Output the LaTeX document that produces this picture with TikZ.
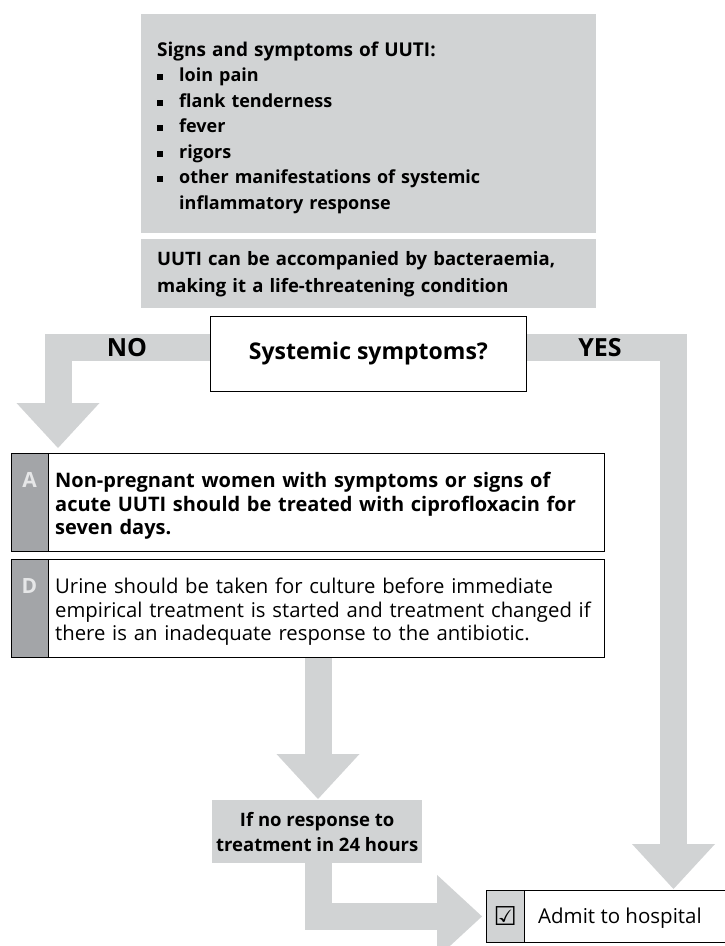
\documentclass[tikz,border=0pt]{standalone}
\usepackage{fontspec}
\setmainfont{Open Sans}
\newfontfamily\symfont{DejaVu Sans}
\usetikzlibrary{arrows.meta,backgrounds}
\definecolor{bandgray}{HTML}{D1D3D4}
\definecolor{stripgray}{HTML}{A3A5A8}
\definecolor{lettergray}{HTML}{E6E7E8}
\newcommand{\bul}{\makebox[22pt][l]{\rule[1.5pt]{6pt}{6pt}}}
\begin{document}
\begin{tikzpicture}[x=1pt,y=-1pt,
  band/.style={draw=bandgray, line width=27pt, line join=miter,
    -{Triangle[width=83pt,length=45pt,line width=0pt]}},
  graybox/.style={fill=bandgray, draw=none, inner sep=0pt, anchor=north west},
  wbox/.style={draw=black, line width=0.8pt, fill=white, inner sep=0pt, anchor=north west},
  stripbox/.style={draw=black, line width=0.8pt, fill=stripgray, inner sep=0pt, anchor=north west},
  chkbox/.style={draw=black, line width=0.8pt, fill=bandgray, inner sep=0pt, anchor=north west},
  letter/.style={anchor=base, text=lettergray, font=\fontsize{21}{24}\selectfont\bfseries},
  bodybold/.style={anchor=north west, inner sep=0pt, align=left, text width=560pt, font=\fontsize{20}{23.5}\selectfont\bfseries},
  bodyreg/.style={anchor=north west, inner sep=0pt, align=left, text width=560pt, font=\fontsize{20.3}{23.5}\selectfont},
  toptext/.style={anchor=north west, inner sep=0pt, align=left, text width=430pt, font=\fontsize{18}{25.5}\selectfont\bfseries},
  bandlabel/.style={font=\fontsize{25}{26}\selectfont\bfseries, inner sep=0pt}
]
\useasboundingbox (0,0) rectangle (725,946);

% named helper coordinates
\coordinate (bandy) at (0,347.5);
\coordinate (nox) at (58,0);
\coordinate (yesx) at (673.5,0);
\coordinate (midx) at (318,0);

% top grey boxes
\node[graybox, minimum width=455pt, minimum height=219pt] (signs) at (141,14) {};
\node[toptext] (signstext) at (157,41.5)
  {{\fontsize{19}{25.5}\selectfont Signs and symptoms of UUTI:}\\
   \bul loin pain\\
   \bul flank tenderness\\
   \bul fever\\
   \bul rigors\\
   \bul other manifestations of systemic\\
   \hspace*{22pt}inflammatory response};

\node[graybox, minimum width=455pt, minimum height=69pt, text width=423pt, inner xsep=16pt,
  align=left, font=\fontsize{18.5}{27}\selectfont\bfseries] (bact) at (141,239)
  {UUTI can be accompanied by bacteraemia,\\
   making it a life-threatening condition};

% decision box
\node[wbox, minimum width=316pt, minimum height=75pt,
  font=\fontsize{23}{26}\selectfont\bfseries] (sys) at (210,316) {Systemic symptoms?};

\node[bandlabel] (no) at (127,348) {NO};
\node[bandlabel] (yes) at (600,348) {YES};

% recommendation A
\node[wbox, minimum width=593pt, minimum height=98pt] (boxA) at (11,453) {};
\node[stripbox, minimum width=37pt, minimum height=98pt] (stripA) at (11,453) {};
\node[letter] (letA) at (29.5,487) {A};
\node[bodybold] (textA) at (55,472)
  {Non-pregnant women with symptoms or signs of\\
   acute UUTI should be treated with ciprofloxacin for\\
   seven days.};

% recommendation D
\node[wbox, minimum width=593pt, minimum height=98pt] (boxD) at (11,559) {};
\node[stripbox, minimum width=37pt, minimum height=98pt] (stripD) at (11,559) {};
\node[letter] (letD) at (29.5,593) {D};
\node[bodyreg] (textD) at (55,578)
  {Urine should be taken for culture before immediate\\
   empirical treatment is started and treatment changed if\\
   there is an inadequate response to the antibiotic.};

% no response box
\node[graybox, minimum width=210pt, minimum height=63pt, align=center,
  font=\fontsize{18.5}{25}\selectfont\bfseries] (resp) at (212,800)
  {If no response to\\ treatment in 24 hours};

% admit box
\node[wbox, minimum width=245pt, minimum height=52pt] (admit) at (486,890) {};
\node[chkbox, minimum width=38pt, minimum height=52pt,
  font=\symfont\fontsize{26}{28}\selectfont] (chk) at (486,890) {☑};
\node[anchor=base west, inner sep=0pt, font=\fontsize{20.5}{24}\selectfont] (admitt) at (538,923) {Admit to hospital};

% block arrows
\begin{scope}[on background layer]
\fill[white] (0,0) rectangle (725,946);
\draw[band, shorten >=5pt] (sys.west |- bandy) -| (nox |- boxA.north);
\draw[band, shorten >=1pt] (sys.east |- bandy) -| (yesx |- admit.north);
\draw[band, shorten >=1pt] (midx |- boxD.south) -- (midx |- resp.north);
\draw[band, shorten >=4pt] (midx |- resp.south) |- (admit.west);
\end{scope}
\end{tikzpicture}
\end{document}
